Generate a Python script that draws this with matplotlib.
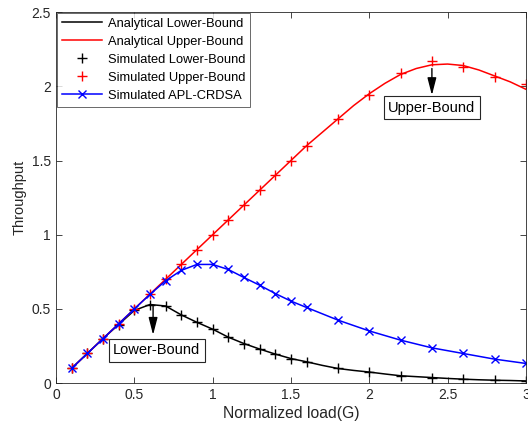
import numpy as np
import matplotlib
matplotlib.use('Agg')
import matplotlib.pyplot as plt

plt.rcParams['font.family'] = ['Liberation Sans', 'DejaVu Sans']

# 仿真点的负载
g_sim = [0.1, 0.2, 0.3, 0.4, 0.5, 0.6, 0.7, 0.8, 0.9, 1.0, 1.1, 1.2, 1.3, 1.4, 1.5, 1.6,
         1.8, 2.0, 2.2, 2.4, 2.6, 2.8, 3.0]
sim_lower = [0.1, 0.2, 0.3, 0.395, 0.49, 0.53, 0.52, 0.46, 0.41, 0.364, 0.31, 0.267, 0.23,
             0.196, 0.166, 0.144, 0.099, 0.075, 0.05, 0.038, 0.027, 0.02, 0.015]
sim_upper = [0.1, 0.2, 0.3, 0.4, 0.5, 0.6, 0.7, 0.8, 0.9, 1.0, 1.1, 1.2, 1.3, 1.4, 1.5, 1.6,
             1.78, 1.94, 2.087, 2.17, 2.127, 2.06, 2.013]
sim_apl = [0.1, 0.2, 0.3, 0.4, 0.5, 0.598, 0.69, 0.76, 0.80, 0.80, 0.766, 0.712, 0.66,
           0.604, 0.553, 0.51, 0.425, 0.352, 0.29, 0.238, 0.20, 0.162, 0.133]

# 解析曲线
g_ana = [0.1, 0.2, 0.3, 0.4, 0.5, 0.6, 0.7, 0.8, 0.9, 1.0, 1.1, 1.2, 1.3, 1.4, 1.5, 1.6,
         1.7, 1.8, 1.9, 2.0, 2.1, 2.2, 2.3, 2.4, 2.5, 2.6, 2.7, 2.8, 2.9, 3.0]
ana_lower = [0.1, 0.2, 0.3, 0.395, 0.49, 0.53, 0.52, 0.46, 0.41, 0.364, 0.31, 0.267, 0.23,
             0.196, 0.166, 0.144, 0.12, 0.099, 0.086, 0.075, 0.062, 0.05, 0.044, 0.038,
             0.032, 0.027, 0.023, 0.02, 0.018, 0.015]
ana_upper = [0.1, 0.2, 0.3, 0.4, 0.5, 0.6, 0.7, 0.8, 0.9, 1.0, 1.1, 1.2, 1.3, 1.4, 1.5, 1.6,
             1.69, 1.78, 1.87, 1.95, 2.02, 2.08, 2.12, 2.145, 2.15, 2.14, 2.11, 2.07, 2.03, 1.98]

fig = plt.figure(figsize=(5.28, 4.32), dpi=100)
ax = fig.add_axes([0.106, 0.113, 0.89, 0.859])

ax.plot(g_ana, ana_lower, 'k-', lw=1.1, label='Analytical Lower-Bound')
ax.plot(g_ana, ana_upper, 'r-', lw=1.1, label='Analytical Upper-Bound')
ax.plot(g_sim, sim_lower, 'k+', ms=7, mew=1.0, label='Simulated Lower-Bound')
ax.plot(g_sim, sim_upper, 'r+', ms=7, mew=1.0, label='Simulated Upper-Bound')
ax.plot(g_sim, sim_apl, 'b-x', lw=1.1, ms=5.5, mew=1.0, label='Simulated APL-CRDSA')

ax.set_xlim(0, 3)
ax.set_ylim(0, 2.5)
ax.set_xticks([0, 0.5, 1, 1.5, 2, 2.5, 3])
ax.set_xticklabels(['0', '0.5', '1', '1.5', '2', '2.5', '3'])
ax.set_yticks([0, 0.5, 1, 1.5, 2, 2.5])
ax.set_yticklabels(['0', '0.5', '1', '1.5', '2', '2.5'])
ax.tick_params(direction='in', top=True, right=True, labelsize=10, length=4, width=0.6,
               colors='#262626')
for s in ax.spines.values():
    s.set_linewidth(0.6)
    s.set_color('#262626')
ax.set_xlabel('Normalized load(G)', fontsize=11.3, color='#262626', labelpad=3)
ax.set_ylabel('Throughput', fontsize=10.5, color='#262626')

leg = ax.legend(loc='upper left', fontsize=9.3, frameon=True, fancybox=False,
                borderaxespad=0.05, handlelength=3.1, labelspacing=0.46,
                borderpad=0.4, handletextpad=0.45)
leg.get_frame().set_edgecolor('#262626')
leg.get_frame().set_linewidth(0.6)

box = dict(boxstyle='square,pad=0.3', fc='white', ec='#262626', lw=0.8)
ax.text(2.40, 1.857, 'Upper-Bound', ha='center', va='center', fontsize=10.5, bbox=box)
ax.text(0.643, 0.222, 'Lower-Bound', ha='center', va='center', fontsize=10.5, bbox=box)
arrow = dict(arrowstyle='-|>,head_length=0.7,head_width=0.18', color='k', lw=1.0,
             mutation_scale=15, shrinkA=0, shrinkB=0)
ax.annotate('', xy=(2.4, 1.94), xytext=(2.4, 2.12), arrowprops=arrow)
ax.annotate('', xy=(0.62, 0.325), xytext=(0.62, 0.525), arrowprops=arrow)

fig.savefig('out.png', dpi=100)
